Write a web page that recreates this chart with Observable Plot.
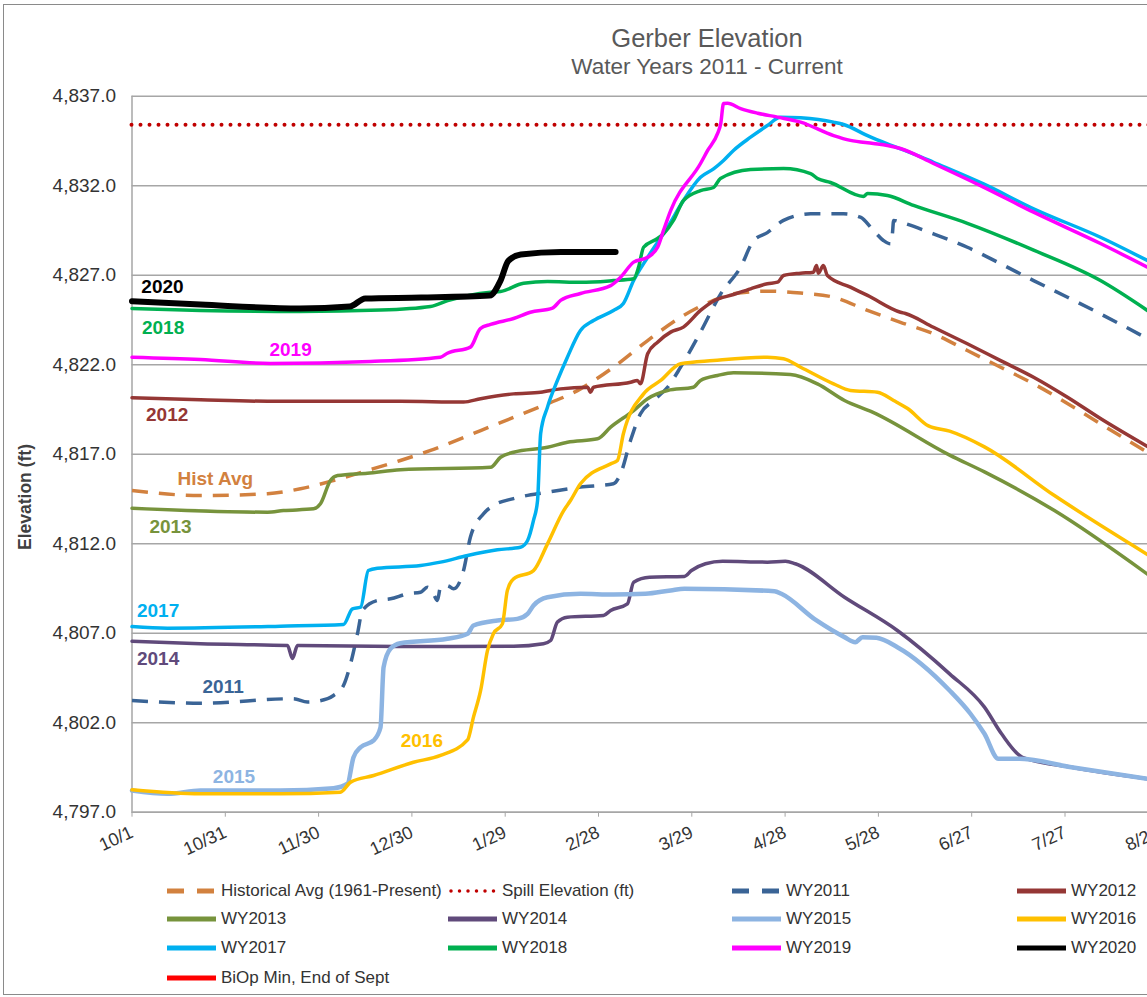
<!DOCTYPE html>
<html><head><meta charset="utf-8">
<script src="https://cdn.jsdelivr.net/npm/d3@7"></script>
<script src="https://cdn.jsdelivr.net/npm/@observablehq/plot@0.6"></script>
<style>
html,body{margin:0;padding:0;overflow:hidden;background:#fff;width:1147px;height:997px;}
body{position:relative;font-family:"Liberation Sans",Arial,sans-serif;}
#frame{position:absolute;left:3px;top:4px;width:1400px;height:991px;border:1.5px solid #8a8a8a;box-sizing:border-box;}
#title{position:absolute;left:0;width:1414px;top:23px;text-align:center;font-size:25.5px;color:#595959;line-height:30px;}
#subtitle{position:absolute;left:0;width:1414px;top:54px;text-align:center;font-size:22.5px;color:#595959;line-height:26px;}
#chart{position:absolute;left:0;top:80px;width:1310px;}
#chart svg{max-width:none !important;width:1310px;height:800px;}
#ylab{position:absolute;left:25px;top:497px;transform:translate(-50%,-50%) rotate(-90deg);font-weight:bold;font-size:17.5px;color:#404040;white-space:nowrap;}
.sw{position:absolute;}
.lt{position:absolute;font-size:17px;color:#333;line-height:20px;white-space:nowrap;}
</style></head>
<body>
<div id="frame"></div>
<div id="title">Gerber Elevation</div>
<div id="subtitle">Water Years 2011 - Current</div>
<div id="ylab">Elevation (ft)</div>
<div id="chart"></div>
<div id="legend"></div>
<script>
// ---- data (day of water year from 10/1, elevation ft) ----
const xTickDays = [0,30,60,90,120,150,180,210,240,270,300,330];
const xTickLabels = ["10/1","10/31","11/30","12/30","1/29","2/28","3/29","4/28","5/28","6/27","7/27","8/26"];
const yTicks = [4797,4802,4807,4812,4817,4822,4827,4832,4837];
const spillElevation = 4835.4;

const histAvg = [[0,4814.97],[22,4814.69],[43.6,4814.79],[54.2,4815.07],[64.8,4815.53],[75.7,4816.09],[86.3,4816.65],[96,4817.21],[112.1,4818.32],[128.1,4819.44],[144.2,4820.65],[154.8,4821.86],[165.8,4823.35],[176.4,4824.65],[187,4825.59],[193.4,4825.96],[204.3,4826.11],[215,4826.0],[225.6,4825.77],[236.5,4825.03],[247.1,4824.37],[257.7,4823.73],[268.6,4822.79],[279.3,4821.86],[289.9,4820.93],[311.4,4818.7],[326.5,4817.1]];
const wy2011 = [[0,4803.24],[22,4803.09],[51.9,4803.34],[56.4,4803.15],[62.9,4803.34],[64.8,4803.52],[68,4804.08],[70.3,4805.31],[72.5,4806.97],[74.1,4808.27],[78.9,4808.83],[83.1,4808.92],[88.6,4809.2],[92.8,4809.29],[95,4809.57],[96.9,4809.2],[98.2,4808.83],[99.2,4809.57],[101.4,4809.66],[103.4,4809.48],[106.6,4810.5],[108.8,4812.36],[113,4813.67],[116.2,4814.13],[122.7,4814.52],[133.6,4814.88],[144.2,4815.16],[154.8,4815.35],[157.1,4815.91],[160.3,4817.77],[163.5,4819.26],[167.7,4820.0],[172.2,4820.74],[176.4,4821.86],[182.8,4823.82],[189.3,4825.96],[195.7,4827.45],[199.9,4828.94],[204.3,4829.38],[209.5,4830.06],[218.2,4830.43],[228.8,4830.43],[234.2,4830.24],[238.4,4829.5],[241.6,4828.94],[243.9,4828.75],[244.5,4829.31],[244.9,4830.06],[247.1,4829.96],[257.7,4829.31],[268.6,4828.56],[279.3,4827.64],[289.9,4826.7],[300.8,4825.77],[311.4,4824.84],[326.5,4823.46]];
const wy2012 = [[0,4820.15],[22,4820.04],[43.6,4819.96],[86.3,4819.96],[106.6,4819.91],[112.1,4820.1],[122.7,4820.37],[131.4,4820.46],[137.8,4820.65],[146.5,4820.74],[147.4,4820.46],[148.4,4820.74],[160.3,4821.02],[162.5,4821.12],[163.5,4820.93],[165.8,4822.61],[169,4823.26],[173.2,4823.82],[177.3,4824.1],[182.8,4825.03],[187,4825.56],[193.4,4825.92],[198.9,4826.24],[204.3,4826.52],[207.6,4826.61],[209.5,4826.98],[215,4827.11],[219.1,4827.17],[220.1,4827.54],[220.7,4827.11],[222.3,4827.54],[223.6,4826.98],[231,4826.33],[236.5,4825.87],[247.1,4824.93],[248.7,4824.86],[257.7,4824.09],[268.6,4823.17],[279.3,4822.23],[289.9,4821.3],[300.8,4820.18],[311.4,4818.99],[326.5,4817.43]];
const wy2013 = [[0,4813.98],[43.6,4813.76],[48.7,4813.85],[58.4,4813.95],[60.6,4814.23],[63.8,4815.53],[66.1,4815.81],[75.7,4815.94],[86.3,4816.13],[115.3,4816.27],[118.5,4816.83],[122.7,4817.11],[133.6,4817.39],[140,4817.67],[149.7,4817.86],[153.9,4818.51],[161.3,4819.44],[165.8,4820.1],[172.2,4820.56],[180.5,4820.74],[182.8,4821.12],[188.3,4821.4],[193.4,4821.55],[211.7,4821.45],[220.4,4820.93],[229.1,4820.0],[238.1,4819.35],[262.9,4816.95],[274.1,4816.01],[296.6,4813.85],[326.5,4810.3]];
const wy2014 = [[0,4806.55],[22,4806.41],[50,4806.31],[51.6,4805.59],[53.2,4806.31],[86.3,4806.26],[122.7,4806.27],[132.3,4806.41],[134.6,4806.59],[136.8,4807.62],[140,4807.89],[151.6,4807.99],[153.9,4808.27],[159.3,4808.64],[161.3,4809.85],[166.4,4810.13],[177.6,4810.17],[179.9,4810.5],[184.4,4810.88],[189.9,4811.02],[204.3,4810.97],[210.1,4811.02],[213.3,4810.88],[229.1,4809.01],[246.1,4807.15],[262.9,4804.73],[274.1,4802.87],[279.6,4801.38],[286.3,4800.07],[302.1,4799.51],[326.5,4798.87]];
const wy2015 = [[0,4798.21],[11.4,4798.03],[22,4798.21],[47.7,4798.21],[64.8,4798.34],[69.3,4798.59],[71.2,4800.06],[73.5,4800.63],[77.7,4801.01],[79.9,4801.73],[80.9,4805.1],[83.1,4806.13],[86.3,4806.44],[101.4,4806.69],[107.9,4806.97],[109.8,4807.43],[117.5,4807.71],[123.9,4807.8],[127.2,4808.08],[129.1,4808.55],[133.6,4809.01],[144.2,4809.2],[154.8,4809.16],[165.1,4809.2],[173.2,4809.39],[177.6,4809.48],[206.6,4809.35],[208.8,4809.2],[220.1,4807.71],[229.1,4806.78],[232.6,4806.5],[234.9,4806.78],[239.4,4806.74],[246.1,4806.22],[262.9,4803.8],[269.6,4802.5],[274.1,4801.38],[278.6,4799.98],[285.4,4799.98],[302.1,4799.51],[326.5,4798.87]];
const wy2016 = [[0,4798.25],[22,4798.03],[47.7,4798.03],[67,4798.12],[70.3,4798.68],[77.7,4799.05],[90.5,4799.79],[99.2,4800.17],[107.9,4801.04],[109.8,4802.31],[112.1,4803.8],[114.3,4806.03],[116.2,4806.97],[119.1,4807.52],[120.7,4809.39],[122.7,4810.04],[129.1,4810.5],[133.6,4811.99],[138.8,4813.85],[141,4814.41],[144.2,4815.35],[153.9,4816.46],[156.1,4816.65],[158,4818.14],[164.5,4820.37],[170,4821.12],[176.4,4822.05],[187,4822.23],[204.3,4822.42],[209.5,4822.33],[215,4821.86],[225.6,4820.93],[231,4820.56],[239.7,4820.46],[244.9,4820.0],[249.4,4819.55],[256.1,4818.58],[262.9,4818.29],[274.1,4817.41],[296.6,4814.69],[326.5,4811.4]];
const wy2017 = [[0,4807.37],[11.4,4807.28],[47.7,4807.39],[68,4807.49],[70.9,4808.36],[73.5,4808.45],[76,4810.5],[78.9,4810.63],[92.8,4810.78],[99.2,4810.97],[107.9,4811.34],[117.5,4811.66],[124.9,4811.8],[127.2,4812.18],[129.1,4813.3],[130.4,4814.41],[131.4,4818.16],[133.6,4819.63],[136.8,4821.12],[140,4822.42],[144.2,4823.91],[148.4,4824.47],[154.8,4825.03],[158,4825.42],[161.3,4826.7],[165.8,4828.0],[172.2,4829.68],[177.3,4831.17],[182.8,4832.47],[187,4832.94],[190.2,4833.41],[193.4,4833.97],[198.9,4834.71],[204.3,4835.36],[208.5,4835.83],[215,4835.79],[225.6,4835.55],[228.8,4835.42],[236.5,4834.8],[242.9,4834.34],[251.3,4833.78],[257.7,4833.31],[273.8,4832.1],[289.9,4830.71],[311.4,4829.12],[326.5,4827.82]];
const wy2018 = [[0,4825.14],[22,4825.03],[54,4824.97],[80,4825.05],[96,4825.25],[101.5,4825.58],[115.3,4826.05],[118.5,4826.09],[125.9,4826.55],[133.6,4826.65],[144.3,4826.6],[154.8,4826.7],[161.3,4826.8],[162.9,4827.45],[164.5,4828.56],[169,4829.05],[171,4829.33],[174.1,4830.06],[177.3,4831.17],[182.8,4831.73],[187,4831.9],[189.2,4832.4],[198.9,4832.9],[209.5,4832.96],[218.2,4832.68],[220.4,4832.4],[224.6,4832.18],[235.2,4831.4],[236.5,4831.56],[242.9,4831.45],[251.3,4830.9],[268.6,4829.9],[289.9,4828.4],[311.4,4826.7],[326.5,4825.03]];
const wy2019 = [[0,4822.42],[22,4822.29],[44.5,4822.07],[76.7,4822.18],[99.2,4822.42],[101.4,4822.64],[108.8,4822.98],[112,4824.02],[115.3,4824.25],[122.7,4824.58],[128.1,4824.93],[135.2,4825.16],[137.8,4825.59],[144.2,4825.98],[153.9,4826.42],[157.1,4826.89],[161.3,4827.73],[165.8,4828.0],[169,4828.56],[170.9,4829.5],[173.2,4830.61],[182.8,4833.24],[185.1,4833.97],[188.3,4834.92],[189.3,4835.47],[190.2,4836.59],[191.5,4836.61],[195.7,4836.31],[201.2,4836.05],[207.6,4835.83],[215,4835.55],[225.6,4834.8],[231,4834.53],[238.4,4834.36],[242.9,4834.25],[247.1,4834.08],[257.7,4833.24],[273.8,4831.92],[289.9,4830.52],[311.4,4828.77],[326.5,4827.45]];
const wy2020 = [[0,4825.55],[22,4825.36],[54,4825.14],[70,4825.25],[75,4825.7],[93,4825.75],[115,4825.86],[118.5,4826.7],[121,4827.8],[125,4828.16],[138,4828.3],[155.5,4828.3]];

const seriesNames = ["Historical Avg (1961-Present)","Spill Elevation (ft)","WY2011","WY2012","WY2013","WY2014","WY2015","WY2016","WY2017","WY2018","WY2019","WY2020","BiOp Min, End of Sept"];
const seriesData = [histAvg,null,wy2011,wy2012,wy2013,wy2014,wy2015,wy2016,wy2017,wy2018,wy2019,wy2020,null];

// direct labels: text, day, elevation
const labelText = ["2020","2018","2019","2012","Hist Avg","2013","2017","2014","2011","2015","2016"];
const labelDay = [9.8,10,51,11.3,26.8,12.4,8.4,8.4,29.3,32.8,93.2];
const labelElev = [4826.37,4824.08,4822.85,4819.22,4815.64,4812.96,4808.27,4805.59,4804.02,4798.99,4801.01];
const labelSeries = ["WY2020","WY2018","WY2019","WY2012","Historical Avg (1961-Present)","WY2013","WY2017","WY2014","WY2011","WY2015","WY2016"];

// ---- styles ----
const styles = {
  "Historical Avg (1961-Present)": {color:"#D2813F", width:3.5, dash:"16 11"},
  "Spill Elevation (ft)": {color:"#C00000", width:4, dash:"0 9", cap:"round"},
  "WY2011": {color:"#3A6496", width:3.5, dash:"16 11"},
  "WY2012": {color:"#953735", width:3.5},
  "WY2013": {color:"#77933C", width:3.5},
  "WY2014": {color:"#604A7B", width:3.5},
  "WY2015": {color:"#8DB4E2", width:4.5},
  "WY2016": {color:"#FFC000", width:3.5},
  "WY2017": {color:"#00B0F0", width:3.5},
  "WY2018": {color:"#00B050", width:3.5},
  "WY2019": {color:"#FF00FF", width:3.5},
  "WY2020": {color:"#000000", width:6},
  "BiOp Min, End of Sept": {color:"#FF0000", width:5}
};
const gridColor = "#a6a6a6";

const W = 1310, H = 800, mL = 131.5, mT = 15.7, mB = 68.3;
const mR = W - (mL + 365*3.11);

const marks = [
  Plot.gridY(yTicks, {stroke: gridColor, strokeOpacity: 1, strokeWidth: 1.5}),
  Plot.ruleX([0], {stroke: gridColor, strokeWidth: 1.5}),
  Plot.axisY({ticks: yTicks, tickFormat: d3.format(",.1f"), tickSize: 0, tickPadding: 16, fontSize: 19, label: null}),
  Plot.axisX({ticks: xTickDays, tickFormat: d => xTickLabels[xTickDays.indexOf(d)], tickRotate: -25, tickSize: 5, tickPadding: 14, dx: 0, stroke: gridColor, fontSize: 18, label: null}),
  Plot.ruleY([yTicks[0]], {stroke: gridColor, strokeWidth: 1.5}),
];
seriesNames.forEach((name, i) => {
  const s = styles[name];
  if (name === "Spill Elevation (ft)") {
    marks.push(Plot.ruleY([spillElevation], {stroke: s.color, strokeWidth: s.width, strokeDasharray: s.dash, strokeLinecap: "round"}));
    return;
  }
  const data = seriesData[i];
  if (!data) return;
  marks.push(Plot.line(data, {x: d => d[0], y: d => d[1], stroke: s.color, strokeWidth: s.width,
    strokeDasharray: s.dash, curve: "monotone-x", strokeLinejoin: "round", strokeLinecap: s.dash ? "butt" : "round"}));
});
const labels = labelText.map((t, i) => ({t, d: labelDay[i], e: labelElev[i], c: styles[labelSeries[i]].color}));
marks.push(Plot.text(labels, {x: "d", y: "e", text: "t", fill: d => d.c, fontSize: 19, fontWeight: "bold", textAnchor: "middle"}));

const chart = Plot.plot({
  width: W, height: H, marginLeft: mL, marginRight: mR, marginTop: mT, marginBottom: mB,
  x: {domain: [0, 365]},
  y: {domain: [4797, 4837]},
  style: {fontFamily: '"Liberation Sans", Arial, sans-serif', color: "#333", background: "transparent", overflow: "visible", maxWidth: "none"},
  marks
});
chart.style.maxWidth = "none";
document.getElementById("chart").appendChild(chart);

// ---- legend ----
const legCols = [166, 447, 731, 1016];
const legRows = [891, 919, 948, 978];
const leg = document.getElementById("legend");
seriesNames.forEach((name, i) => {
  const s = styles[name];
  const col = i % 4, row = Math.floor(i / 4);
  const x = legCols[col], y = legRows[row];
  const ns = "http://www.w3.org/2000/svg";
  const svg = document.createElementNS(ns, "svg");
  svg.setAttribute("width", 52); svg.setAttribute("height", 12);
  svg.setAttribute("class", "sw");
  svg.style.left = x + "px"; svg.style.top = (y - 6) + "px";
  const ln = document.createElementNS(ns, "line");
  ln.setAttribute("x1", s.dash === "0 9" ? 4 : 1); ln.setAttribute("x2", 50);
  ln.setAttribute("y1", 6); ln.setAttribute("y2", 6);
  ln.setAttribute("stroke", s.color);
  ln.setAttribute("stroke-width", s.dash === "0 9" ? 3.5 : 5);
  if (s.dash) { ln.setAttribute("stroke-dasharray", s.dash === "0 9" ? "0 8.5" : "17 13"); }
  ln.setAttribute("stroke-linecap", s.dash === "0 9" ? "round" : "butt");
  svg.appendChild(ln);
  leg.appendChild(svg);
  const tx = document.createElement("div");
  tx.className = "lt"; tx.textContent = name;
  tx.style.left = (x + 55) + "px"; tx.style.top = (y - 10) + "px";
  leg.appendChild(tx);
});
</script>
</body></html>
